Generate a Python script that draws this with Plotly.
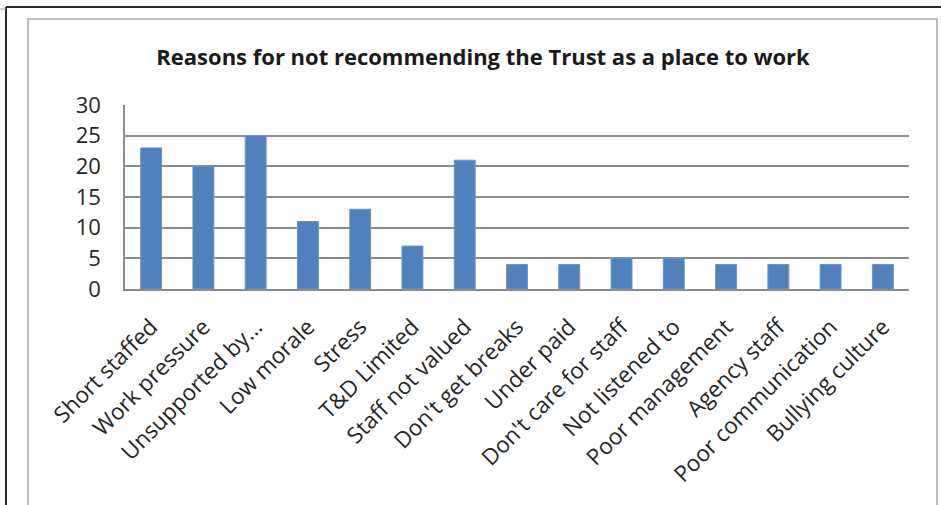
import plotly.graph_objects as go

categories = [
    "Short staffed", "Work pressure", "Unsupported by...", "Low morale", "Stress",
    "T&D Limited", "Staff not valued", "Don't get breaks", "Under paid",
    "Don't care for staff", "Not listened to", "Poor management", "Agency staff",
    "Poor communication", "Bullying culture",
]
counts = [23, 20, 25, 11, 13, 7, 21, 4, 4, 5, 5, 4, 4, 4, 4]
y_ticks = [0, 5, 10, 15, 20, 25, 30]

W, H = 941, 505
ML, MR, MT, MB = 125, 32, 105, 216
PW, PH = W - ML - MR, H - MT - MB


def px(x):
    return (x - ML) / PW


def py(y):
    return (H - MB - y) / PH


FONT = "Open Sans"

fig = go.Figure(
    go.Bar(
        x=categories,
        y=counts,
        marker=dict(color="#4F81BD", line=dict(color="#6A95CC", width=1)),
        hoverinfo="x+y",
    )
)

frame = dict(xref="paper", yref="paper", layer="above")
shapes = [
    # outer document frame
    dict(type="line", x0=px(6), x1=px(W + 5), y0=py(7), y1=py(7),
         line=dict(color="#2b2b2b", width=2), **frame),
    dict(type="line", x0=px(6), x1=px(6), y0=py(7), y1=py(H + 5),
         line=dict(color="#2b2b2b", width=2), **frame),
    dict(type="line", x0=px(-2), x1=px(6), y0=py(9), y1=py(9),
         line=dict(color="#9a9a9a", width=1), **frame),
    # chart area border
    dict(type="rect", x0=px(28), x1=px(937), y0=py(19), y1=py(H + 10),
         line=dict(color="#a6a6a6", width=1.5), fillcolor="rgba(0,0,0,0)", **frame),
]

fig.update_layout(
    width=W,
    height=H,
    margin=dict(l=ML, r=MR, t=MT, b=MB, autoexpand=False),
    paper_bgcolor="white",
    plot_bgcolor="white",
    bargap=0.6,
    showlegend=False,
    title=dict(
        text="<b>Reasons for not recommending the Trust as a place to work</b>",
        x=483 / W, xanchor="center",
        y=1 - 57 / H, yanchor="middle",
        font=dict(family=FONT, size=22, color="#1a1a1a"),
    ),
    font=dict(family=FONT, color="#262626"),
    shapes=shapes,
    xaxis=dict(
        tickangle=-45,
        tickfont=dict(size=22.5, color="#262626"),
        ticklabelstandoff=14,
        showline=True, linecolor="#8c8c8c", linewidth=1.5,
        showgrid=False, ticks="", fixedrange=True, automargin=False,
    ),
    yaxis=dict(
        range=[0, 30],
        tickvals=y_ticks,
        tickfont=dict(size=22, color="#262626"),
        ticklabelstandoff=18,
        showgrid=True, gridcolor="#8c8c8c", gridwidth=1.5,
        showline=True, linecolor="#8c8c8c", linewidth=1.5,
        zeroline=False, ticks="",
        fixedrange=True, automargin=False,
    ),
)

fig.write_html("out.html")
